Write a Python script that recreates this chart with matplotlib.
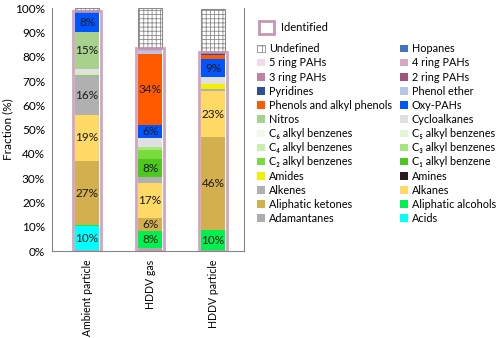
import matplotlib
matplotlib.use("Agg")
import matplotlib.pyplot as plt
from matplotlib.patches import Patch, Rectangle
from matplotlib.ticker import FuncFormatter

plt.rcParams['font.family'] = ['Lato', 'DejaVu Sans']
plt.rcParams['hatch.linewidth'] = 0.6

# Sample categories
categories = ["Ambient particle", "HDDV gas", "HDDV particle"]

# Components, stacked bottom -> top
components = ["Acids", "Adamantanes", "Aliphatic alcohols", "Aliphatic ketones", "Alkanes",
              "Alkenes", "Amines", "Amides", "C\u2081 alkyl benzene", "C\u2082 alkyl benzenes",
              "C\u2083 alkyl benzenes", "C\u2084 alkyl benzenes", "C\u2085 alkyl benzenes",
              "C\u2086 alkyl benzenes", "Cycloalkanes", "Nitros", "Oxy-PAHs",
              "Phenols and alkyl phenols", "Phenol ether", "Pyridines", "2 ring PAHs",
              "3 ring PAHs", "4 ring PAHs", "5 ring PAHs", "Hopanes", "Undefined"]

colors = ["#00FFFF", "#ADADAD", "#00F050", "#D4AF50", "#FFD966",
          "#B0B0B0", "#2A1A1A", "#F0F000", "#4CC81E", "#7ADC3C",
          "#A6E67A", "#C8EEB0", "#E2F5D5", "#F0FAEA", "#E0E0E0",
          "#A9D18E", "#0055FF", "#FF5A00", "#B4C7E7", "#2F4E9A",
          "#A0527A", "#C080A8", "#D9A5C5", "#F2DCEB", "#4472C4", "white"]

# Fractions of total (%), same order as components
ambient_particle = [10.4, 0, 0.3, 26.4, 19.0, 16.1, 0, 0, 0, 0.3, 0, 0, 0, 0, 2.4,
                    15.3, 8.1, 0, 0, 0, 0, 0, 0.7, 0, 0, 1.0]
hddv_gas = [0, 1.1, 7.1, 5.3, 14.4, 2.7, 0, 0, 7.2, 3.8, 1.4, 0, 0, 0, 3.7,
            0, 5.4, 29.0, 1.4, 0, 0, 0, 1.2, 0, 0, 16.3]
hddv_particle = [0, 0, 8.9, 38.0, 18.8, 1.0, 0, 2.2, 0, 0, 0, 0, 0, 0, 2.6,
                 0, 7.5, 1.8, 0, 0.7, 0, 0, 0.5, 0, 0, 17.5]

# Share of the identified fraction printed on the bars
ambient_labels = {"Acids": "10%", "Aliphatic ketones": "27%", "Alkanes": "19%",
                  "Alkenes": "16%", "Nitros": "15%", "Oxy-PAHs": "8%"}
gas_labels = {"Aliphatic alcohols": "8%", "Aliphatic ketones": "6%", "Alkanes": "17%",
              "C\u2081 alkyl benzene": "8%", "Oxy-PAHs": "6%",
              "Phenols and alkyl phenols": "34%"}
particle_labels = {"Aliphatic alcohols": "10%", "Aliphatic ketones": "46%",
                   "Alkanes": "23%", "Oxy-PAHs": "9%"}

series = [ambient_particle, hddv_gas, hddv_particle]
labels = [ambient_labels, gas_labels, particle_labels]

fig = plt.figure(figsize=(5, 3.38), dpi=100)
ax = fig.add_axes([0.104, 0.257, 0.384, 0.719])

bar_w = 0.38
pink = "#C896B4"
for i, vals in enumerate(series):
    bottom = 0
    for name, col, v in zip(components, colors, vals):
        if v <= 0:
            continue
        if name == "Undefined":
            ax.bar(i, v, bar_w, bottom=bottom, facecolor="white", edgecolor="#8C8C8C",
                   hatch="++++", linewidth=0.8)
        else:
            ax.bar(i, v, bar_w, bottom=bottom, color=col, linewidth=0)
        if name in labels[i]:
            ax.text(i, bottom + v / 2, labels[i][name], ha="center", va="center",
                    fontsize=8.5, color="#1A1A1A")
        bottom += v
    ident = sum(vals) - vals[-1]
    ax.add_patch(Rectangle((i - 0.22, 0), 0.44, ident, fill=False,
                           edgecolor=pink, linewidth=2, alpha=0.85, zorder=3))

ax.set_xlim(-0.556, 2.49)
ax.set_ylim(0, 100)
ax.set_yticks(range(0, 101, 10))
ax.yaxis.set_major_formatter(FuncFormatter(lambda v, p: f"{v:.0f}%"))
ax.set_xticks(range(len(categories)))
ax.set_xticklabels(categories, rotation=90, fontsize=7.6)
ax.tick_params(axis="y", labelsize=8.5, length=0, pad=5)
ax.tick_params(axis="x", length=0, pad=6)
ax.set_ylabel("Fraction (%)", fontsize=8.5)
ax.yaxis.set_label_coords(-0.2, 0.5)
for s in ["left", "bottom", "right"]:
    ax.spines[s].set_color("#868686")
ax.spines["top"].set_visible(False)

# legend: Excel order, read row by row in two columns
order = list(reversed(range(len(components))))
col1 = order[0::2]
col2 = order[1::2]
handles = []
for idx in col1 + col2:
    if components[idx] == "Undefined":
        h = Patch(facecolor="white", edgecolor="#8C8C8C", hatch="++", linewidth=0.6,
                  label=components[idx])
    else:
        h = Patch(facecolor=colors[idx], edgecolor="none", label=components[idx])
    handles.append(h)

leg = fig.legend(handles=handles, ncol=2, loc="upper left", bbox_to_anchor=(0.504, 0.888),
                 frameon=False, fontsize=7.8, handlelength=0.7, handleheight=0.7,
                 handletextpad=0.4, columnspacing=0.7, labelspacing=0.29, borderpad=0)

ident_h = Rectangle((0, 0), 1, 1, facecolor="white", edgecolor=pink, linewidth=2)
fig.legend(handles=[ident_h], labels=["Identified"], loc="upper left",
           bbox_to_anchor=(0.506, 0.955), frameon=False, fontsize=8,
           handlelength=1.4, handleheight=1.4, handletextpad=0.6, borderpad=0)

fig.savefig("out.png", dpi=100)
